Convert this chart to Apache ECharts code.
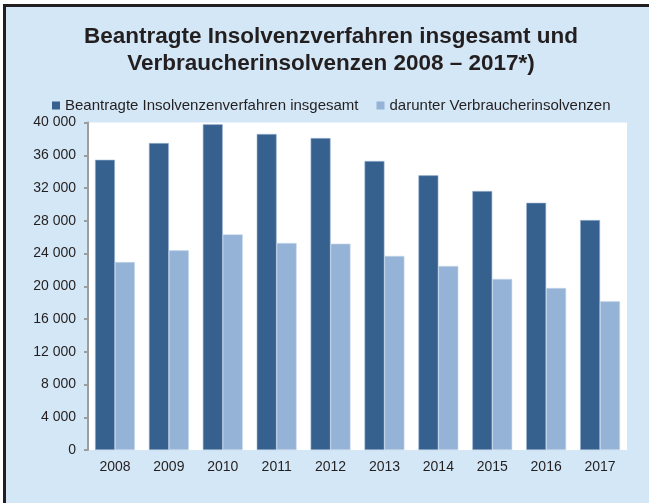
<!DOCTYPE html>
<html>
<head>
<meta charset="utf-8">
<script src="https://cdn.jsdelivr.net/npm/echarts@6/dist/echarts.min.js"></script>
<style>
  body { margin: 0; background: #fff; }
  #main { width: 649px; height: 503px; }
</style>
</head>
<body>
<div id="main"></div>
<script>
// Jahre und Werte
const years = ['2008', '2009', '2010', '2011', '2012', '2013', '2014', '2015', '2016', '2017']
const insgesamt = [35450, 37490, 39780, 38600, 38100, 35300, 33550, 31630, 30200, 28090]
const verbraucher = [22960, 24390, 26340, 25280, 25200, 23700, 22470, 20890, 19790, 18160]
const seriesNames = ['Beantragte Insolvenzenverfahren insgesamt', 'darunter Verbraucherinsolvenzen']

const myChart = echarts.init(document.getElementById('main'))
const option = {
  animation: false,
  textStyle: { fontFamily: 'Liberation Sans, Arial, sans-serif' },
  graphic: [
    {
      type: 'rect',
      z: -10,
      shape: { x: 4.5, y: 5.5, width: 700, height: 600 },
      style: { fill: '#d4e7f6', stroke: '#231f20', lineWidth: 3 }
    }
  ],
  title: {
    text: 'Beantragte Insolvenzverfahren insgesamt und\nVerbraucherinsolvenzen 2008 – 2017*)',
    left: 326,
    textAlign: 'center',
    top: 18,
    textStyle: {
      color: '#231f20',
      fontSize: 22.5,
      fontWeight: 'bold',
      lineHeight: 27
    }
  },
  legend: {
    top: 93,
    left: 47,
    itemWidth: 8,
    itemHeight: 8,
    itemGap: 18,
    icon: 'rect',
    itemStyle: { borderWidth: 0 },
    textStyle: { color: '#231f20', fontSize: 15 },
    data: seriesNames
  },
  grid: {
    left: 88,
    right: 22,
    top: 122.5,
    bottom: 53,
    show: true,
    backgroundColor: '#ffffff',
    borderWidth: 0
  },
  xAxis: {
    type: 'category',
    data: years,
    axisLine: { show: false },
    axisTick: { show: false },
    axisLabel: { color: '#231f20', fontSize: 14, margin: 10 }
  },
  yAxis: {
    type: 'value',
    min: 0,
    max: 40000,
    interval: 4000,
    splitLine: { show: false },
    axisLine: { show: true, lineStyle: { color: '#9d9d9d', width: 2 } },
    axisTick: { show: true, length: 4, lineStyle: { color: '#9d9d9d', width: 2 } },
    axisLabel: {
      color: '#231f20',
      fontSize: 14,
      margin: 12,
      formatter: function (v) {
        return v === 0 ? '0' : (v / 1000) + ' 000'
      }
    }
  },
  series: [
    {
      name: seriesNames[0],
      type: 'bar',
      barGap: '0%',
      barCategoryGap: '26%',
      itemStyle: { color: '#36618f', borderColor: '#9fb8d6', borderWidth: 0.6 },
      data: insgesamt
    },
    {
      name: seriesNames[1],
      type: 'bar',
      itemStyle: { color: '#95b3d7', borderColor: '#c6d6ea', borderWidth: 0.6 },
      data: verbraucher
    }
  ]
}
myChart.setOption(option)
</script>
</body>
</html>
